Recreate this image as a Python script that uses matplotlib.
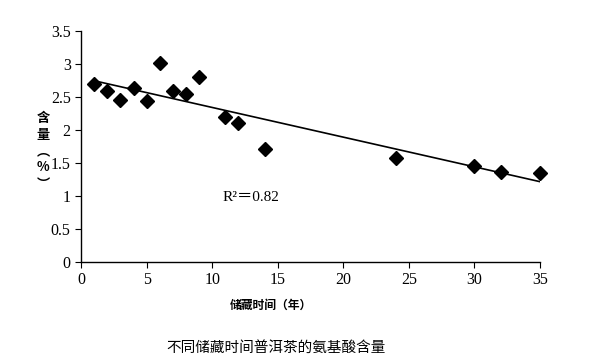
import numpy as np
import matplotlib
matplotlib.use('Agg')
import matplotlib.pyplot as plt

plt.rcParams['font.family'] = ['Liberation Serif', 'Noto Sans CJK SC']

# storage years and amino acid content (%)
years = [1, 2, 3, 4, 5, 6, 7, 8, 9, 11, 12, 14, 24, 30, 32, 35]
content = [2.70, 2.59, 2.46, 2.64, 2.44, 3.01, 2.59, 2.55, 2.80,
           2.19, 2.10, 1.71, 1.57, 1.46, 1.37, 1.35]
r2_label = 'R²＝0.82'
ylabel_chars = ['含', '量', '︵', '%', '︶']
xticks = [0, 5, 10, 15, 20, 25, 30, 35]
yticks = [0, 0.5, 1, 1.5, 2, 2.5, 3, 3.5]

fig = plt.figure(figsize=(5.92, 3.64), dpi=100)
ax = fig.add_axes([0.137, 0.280, 0.775, 0.635])

x = np.array(years)
y = np.array(content)
k, b = np.polyfit(x, y, 1)
xl = np.array([x.min(), x.max()])
ax.plot(xl, k * xl + b, color='black', lw=1.2)
ax.plot(x, y, 'D', color='black', ms=7, clip_on=False, zorder=3)

ax.set_xlim(0, 35)
ax.set_ylim(0, 3.5)
ax.set_xticks(xticks)
ax.set_yticks(yticks)
ax.set_yticklabels([f'{v:g}' for v in yticks])
ax.tick_params(labelsize=11.5, length=4, width=0.8, colors='black')
for s in ['top', 'right']:
    ax.spines[s].set_visible(False)
for s in ['left', 'bottom']:
    ax.spines[s].set_linewidth(1.0)

ax.text(10.8, 0.98, r2_label, fontsize=11, va='center', ha='left',
        family=['Liberation Serif', 'Noto Sans CJK SC'])

cjk = ['Noto Sans CJK SC', 'DejaVu Sans']
# vertical y label, one character per row
for i, ch in enumerate(ylabel_chars):
    fig.text(0.073, 0.675 - i * 0.045, ch, fontsize=9.5, weight='bold',
             ha='center', va='center', family=cjk)
fig.text(0.457, 0.162, '储藏时间（年）', fontsize=8.5, weight='bold',
         ha='center', va='center', family=cjk)
fig.text(0.466, 0.044, '不同储藏时间普洱茶的氨基酸含量', fontsize=10.5,
         ha='center', va='center', family=cjk)

fig.savefig('out.png', dpi=100, facecolor='white')
